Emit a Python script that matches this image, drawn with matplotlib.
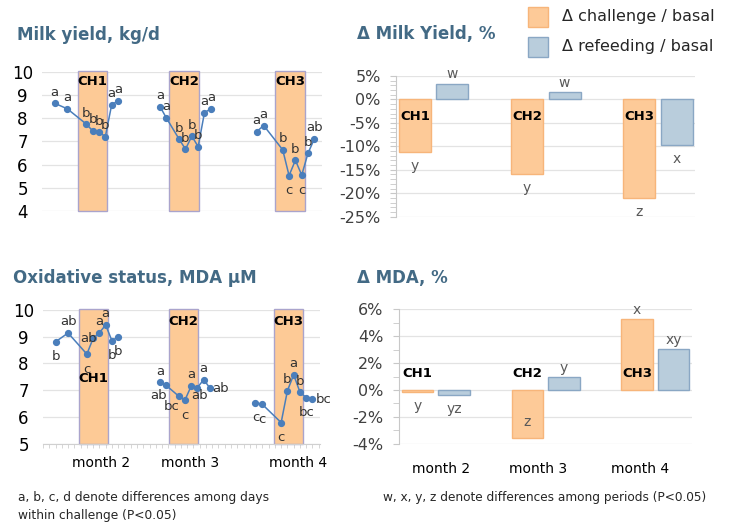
import matplotlib
matplotlib.use("Agg")
import matplotlib.pyplot as plt
from matplotlib.patches import Rectangle
from matplotlib.ticker import FuncFormatter, MultipleLocator

plt.rcParams['font.family'] = ['DejaVu Sans']
plt.rcParams['axes.unicode_minus'] = False

# ---- data ----
# sampling days (x) of each challenge month
days_m2 = [2, 4, 7, 8, 9, 10, 11, 12]
days_m3 = [18.65, 19.6, 21.65, 22.65, 23.65, 24.65, 25.65, 26.65]
days_m4 = [33.9, 35.0, 38.0, 39.0, 40.0, 41.0, 42.0, 43.0]
challenge_spans = [(5.7, 10.3), (20.05, 24.8), (36.85, 41.5)]
challenge_names = ['CH1', 'CH2', 'CH3']
months = ['month 2', 'month 3', 'month 4']

milk_m2 = [8.65, 8.41, 7.75, 7.46, 7.41, 7.21, 8.59, 8.75]
milk_m3 = [8.50, 8.03, 7.10, 6.67, 7.23, 6.78, 8.25, 8.41]
milk_m4 = [7.43, 7.69, 6.64, 5.53, 6.19, 5.55, 6.50, 7.12]
milk_let_m2 = ['a', 'a', 'b', 'b', 'b', 'b', 'a', 'a']
milk_let_m3 = ['a', 'a', 'b', 'b', 'b', 'b', 'a', 'a']
milk_let_m4 = ['a', 'a', 'b', 'c', 'b', 'c', 'b', 'ab']

mda_m2 = [8.81, 9.14, 8.35, 8.94, 9.15, 9.44, 8.85, 9.00]
mda_m3 = [7.30, 7.19, 6.78, 6.63, 7.16, 7.10, 7.40, 7.07]
mda_m4 = [6.54, 6.47, 5.79, 6.98, 7.58, 6.93, 6.72, 6.66]
mda_let_m2 = ['b', 'ab', 'c', 'ab', 'a', 'a', 'b', 'b']
mda_let_m3 = ['a', 'ab', 'bc', 'c', 'a', 'ab', 'a', 'ab']
mda_let_m4 = ['c', 'c', 'c', 'b', 'a', 'b', 'bc', 'bc']

# Δ vs basal, %
dmilk_challenge = [-11.3, -16.0, -21.1]
dmilk_refeed = [3.4, 1.5, -9.8]
dmilk_let_challenge = ['y', 'y', 'z']
dmilk_let_refeed = ['w', 'w', 'x']

dmda_challenge = [-0.12, -3.6, 5.26]
dmda_refeed = [-0.4, 0.94, 3.03]
dmda_let_challenge = ['y', 'z', 'x']
dmda_let_refeed = ['yz', 'y', 'xy']

# ---- style ----
W, H = 732, 524
TITLE_C = '#436a85'
LINE_C = '#4a7ebb'
CH_FILL = '#fdca96'
CH_EDGE = '#aaa4cc'
OR_FILL = '#fdca98'
OR_EDGE = '#f7b57a'
BL_FILL = '#b9cddc'
BL_EDGE = '#8aa7c4'
GRID_C = '#e3e3e3'

# letter placement (pixels, dx, dy-up)
OFFS = {'a': (0, 11), 'b': (0, -15), 'l': (-5, 0), 'r': (11, 0),
        'bl': (-7, -10), 'br': (2, -8)}

milk_pos = [['a'] * 8, ['a'] * 8, ['a', 'a', 'a', 'b', 'a', 'b', 'a', 'a']]
mda_pos = [['b', 'a', 'b', 'l', 'a', 'a', 'b', 'b'],
           ['a', 'bl', 'bl', 'b', 'a', 'br', 'a', 'r'],
           ['b', 'b', 'b', 'a', 'a', 'a', 'b', 'r']]


def px_axes(fig, x0, x1, y0, y1):
    return fig.add_axes([x0 / W, 1 - y1 / H, (x1 - x0) / W, (y1 - y0) / H])


fig = plt.figure(figsize=(W / 100, H / 100), dpi=100)


def day_panel(ax, series, letters, places, ylo, ch_y, ch1_y=None):
    ax.set_xlim(0, 44.2)
    ax.set_ylim(ylo, 10)
    ax.set_yticks(range(ylo, 11))
    ax.yaxis.grid(True, color=GRID_C, lw=0.9)
    ax.set_axisbelow(True)
    for s in ['top', 'right', 'left']:
        ax.spines[s].set_visible(False)
    ax.spines['bottom'].set_color('#d0d0d0')
    ax.tick_params(axis='y', length=0, labelsize=12, pad=14)
    for lab in ax.get_yticklabels():
        lab.set_ha('center')
    for (a, b), name in zip(challenge_spans, challenge_names):
        ax.axvspan(a, b, ymin=0, ymax=1.005, facecolor=CH_FILL, edgecolor=CH_EDGE,
                   lw=1.0, zorder=1, clip_on=False)
        y = ch_y
        if name == 'CH1' and ch1_y is not None:
            y = ch1_y
        ax.text((a + b) / 2, y, name, ha='center', va='center', fontsize=9.5,
                fontweight='bold', color='black', zorder=4)
    for (xs, ys), labs, pl in zip(series, letters, places):
        ax.plot(xs, ys, color=LINE_C, lw=1.1, marker='o', ms=4.2, zorder=3)
        for x, y, t, p in zip(xs, ys, labs, pl):
            dx, dy = OFFS[p]
            ax.annotate(t, (x, y), xytext=(dx * 0.72, dy * 0.72), textcoords='offset points',
                        ha='center', va='center', fontsize=9.5, color='#333333', zorder=5)


# Milk yield, kg/d
ax1 = px_axes(fig, 42, 322, 72, 211)
day_panel(ax1, [(days_m2, milk_m2), (days_m3, milk_m3), (days_m4, milk_m4)],
          [milk_let_m2, milk_let_m3, milk_let_m4], milk_pos, 4, 9.58)
ax1.spines['bottom'].set_visible(False)
ax1.set_xticks([])

# Oxidative status
ax3 = px_axes(fig, 43, 320, 310, 443.7)
day_panel(ax3, [(days_m2, mda_m2), (days_m3, mda_m3), (days_m4, mda_m4)],
          [mda_let_m2, mda_let_m3, mda_let_m4], mda_pos, 5, 9.56, ch1_y=7.44)
ax3.set_xticks([9.3, 23.5, 40.7])
ax3.set_xticklabels(months, fontsize=10)
ax3.tick_params(axis='x', which='major', length=0, pad=9)
ax3.xaxis.set_minor_locator(MultipleLocator(1))
ax3.tick_params(axis='x', which='minor', length=3, color='#d0d0d0', direction='out')


def delta_panel(ax, chal, refe, let_c, let_r, ylim, step, ch_y, below_inside=()):
    cats = range(len(chal))
    xc = [c - 0.167 for c in cats]
    xr = [c + 0.167 for c in cats]
    ax.bar(xc, chal, width=0.285, color=OR_FILL, edgecolor=OR_EDGE, lw=1.0, zorder=2)
    ax.bar(xr, refe, width=0.285, color=BL_FILL, edgecolor=BL_EDGE, lw=1.0, zorder=2)
    ax.set_xlim(-0.335, 2.33)
    ax.set_ylim(*ylim)
    ax.yaxis.set_major_locator(MultipleLocator(step))
    ax.yaxis.set_minor_locator(MultipleLocator(1))
    ax.yaxis.set_major_formatter(FuncFormatter(lambda v, _: f"{v:.0f}%"))
    ax.yaxis.grid(True, color=GRID_C, lw=0.9)
    ax.set_axisbelow(True)
    for s in ['top', 'right', 'bottom']:
        ax.spines[s].set_visible(False)
    ax.spines['left'].set_color('#c8c8c8')
    ax.tick_params(axis='y', which='both', length=4, color='#c8c8c8', labelsize=11.5,
                   pad=7, labelcolor='#404040')
    for i, name in enumerate(challenge_names):
        ax.text(xc[i], ch_y, name, ha='center', va='center', fontsize=9.5,
                fontweight='bold', color='black', zorder=4)
    for xs, vals, labs, tag in [(xc, chal, let_c, 'c'), (xr, refe, let_r, 'r')]:
        for i, (x, v, t) in enumerate(zip(xs, vals, labs)):
            if (tag, i) in below_inside:
                dy = 16
            elif v >= 0:
                dy = 9.5
            else:
                dy = -14
            ax.annotate(t, (x, v), xytext=(0, dy * 0.72), textcoords='offset points',
                        ha='center', va='center', fontsize=10, color='#595959', zorder=5)


# Δ Milk Yield, %
ax2 = px_axes(fig, 396, 695, 76, 216.7)
delta_panel(ax2, dmilk_challenge, dmilk_refeed, dmilk_let_challenge, dmilk_let_refeed,
            (-25, 5), 5, -3.7)
ax2.set_xticks([])

# Δ MDA, %
ax4 = px_axes(fig, 399, 691.7, 309.3, 443.7)
delta_panel(ax4, dmda_challenge, dmda_refeed, dmda_let_challenge, dmda_let_refeed,
            (-4, 6), 2, 1.24, below_inside={('c', 1)})
ax4.set_xticks([0.05, 0.93, 1.86])
ax4.set_xticklabels(months, fontsize=10)
ax4.tick_params(axis='x', length=0, pad=13)

# titles
fig.text(17 / W, 1 - 35 / H, 'Milk yield, kg/d', fontsize=12, fontweight='bold',
         color=TITLE_C, va='center')
fig.text(357 / W, 1 - 34 / H, 'Δ Milk Yield, %', fontsize=12, fontweight='bold',
         color=TITLE_C, va='center')
fig.text(13 / W, 1 - 278 / H, 'Oxidative status, MDA μM', fontsize=12, fontweight='bold',
         color=TITLE_C, va='center')
fig.text(357 / W, 1 - 278 / H, 'Δ MDA, %', fontsize=12, fontweight='bold',
         color=TITLE_C, va='center')

# legend
for ytop, fc, ec, lab in [(7, OR_FILL, OR_EDGE, 'Δ challenge / basal'),
                          (37, BL_FILL, BL_EDGE, 'Δ refeeding / basal')]:
    fig.patches.append(Rectangle((528 / W, 1 - (ytop + 20) / H), 20 / W, 20 / H,
                                 transform=fig.transFigure, facecolor=fc, edgecolor=ec, lw=1.0))
    fig.text(562 / W, 1 - (ytop + 10) / H, lab, fontsize=11.5, color='#262626', va='center')

# footnotes
fig.text(18 / W, 1 - 497 / H, 'a, b, c, d denote differences among days', fontsize=8.8,
         color='#262626', va='center')
fig.text(18 / W, 1 - 515 / H, 'within challenge (P<0.05)', fontsize=8.8,
         color='#262626', va='center')
fig.text(383 / W, 1 - 497 / H, 'w, x, y, z denote differences among periods (P<0.05)',
         fontsize=8.7, color='#262626', va='center')

fig.savefig('out.png', dpi=100)
